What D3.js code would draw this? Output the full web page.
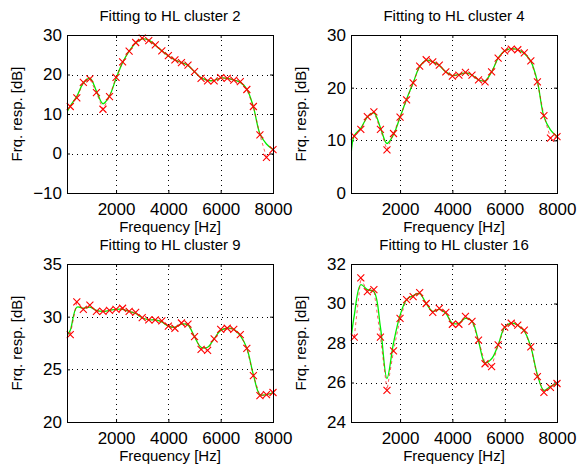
<!DOCTYPE html>
<html>
<head>
<meta charset="utf-8">
<script src="https://cdn.jsdelivr.net/npm/d3@7"></script>
<style>
  body { margin: 0; background: #fff; }
  svg { font-family: "Liberation Sans", Arial, Helvetica, sans-serif; }
</style>
</head>
<body>
<svg width="578" height="466"></svg>
<script>
// sample frequencies of the measured points, and of the fitted curve
const freqs = [250, 500, 750, 1000, 1250, 1500, 1750, 2000, 2250, 2500, 2750, 3000, 3250, 3500, 3750, 4000,
  4250, 4500, 4750, 5000, 5250, 5500, 5750, 6000, 6250, 6500, 6750, 7000, 7250, 7500, 7750, 8000];
const fitFreqs = [125, 250, 500, 750, 1000, 1250, 1500, 1750, 2000, 2250, 2500, 2750, 3000, 3250, 3500, 3750, 4000,
  4250, 4500, 4750, 5000, 5250, 5500, 5750, 6000, 6250, 6500, 6750, 7000, 7250, 7500, 7750, 8000];
const xTicks = [2000, 4000, 6000, 8000];

// cluster 2
const hl2Points = [11.9, 14.1, 18.0, 18.9, 15.4, 11.2, 14.4, 19.3, 23.2, 25.9, 28.1, 29.2, 28.6, 27.5, 26.0, 24.8,
  23.7, 23.0, 22.4, 20.7, 19.0, 18.4, 18.4, 19.2, 19.0, 18.6, 18.2, 16.2, 11.9, 4.7, -1.0, 1.0];
const hl2Fit = [10.5, 12.0, 14.5, 17.8, 19.1, 15.8, 12.6, 14.6, 19.0, 23.0, 25.9, 28.0, 29.0, 28.7, 27.4, 26.0, 24.7,
  23.7, 23.0, 22.3, 20.7, 19.2, 18.5, 18.5, 19.1, 19.0, 18.6, 18.0, 16.3, 11.8, 5.0, 2.4, 1.0];
const hl2Ticks = [-10, 0, 10, 20, 30];

// cluster 4
const hl4Points = [10.8, 12.1, 14.5, 15.4, 12.1, 8.2, 11.3, 14.4, 17.7, 20.9, 24.1, 25.3, 24.9, 24.3, 23.0, 22.2,
  22.4, 22.9, 22.4, 21.5, 21.1, 23.0, 25.6, 27.0, 27.3, 27.2, 26.6, 25.1, 21.1, 14.7, 10.4, 10.7];
const hl4Fit = [7.0, 10.9, 12.3, 14.4, 15.2, 12.4, 9.4, 11.1, 14.4, 17.8, 20.9, 24.0, 25.2, 24.9, 24.2, 23.0, 22.3,
  22.5, 22.8, 22.4, 21.5, 21.3, 23.0, 25.6, 27.0, 27.4, 27.2, 26.5, 25.0, 21.2, 14.5, 12.0, 10.7];
const hl4Ticks = [0, 10, 20, 30];

// cluster 9
const hl9Points = [28.3, 31.4, 30.7, 31.1, 30.5, 30.5, 30.6, 30.7, 30.8, 30.5, 30.4, 29.9, 29.7, 29.7, 29.6, 29.1,
  28.9, 29.4, 29.3, 28.1, 26.9, 26.8, 27.9, 28.8, 28.9, 28.8, 28.3, 27.0, 24.4, 22.5, 22.6, 22.8];
const hl9Fit = [28.2, 28.7, 30.9, 30.8, 30.9, 30.6, 30.5, 30.6, 30.7, 30.7, 30.5, 30.3, 29.9, 29.7, 29.7, 29.5, 29.1,
  29.0, 29.3, 29.2, 28.1, 27.1, 27.1, 27.9, 28.7, 28.9, 28.8, 28.2, 27.0, 24.5, 22.6, 22.6, 22.8];
const hl9Ticks = [20, 25, 30, 35];

// cluster 16
const hl16Points = [28.3, 31.3, 30.6, 30.7, 28.3, 25.6, 27.6, 29.25, 30.2, 30.35, 30.55, 30.0, 29.55, 29.75, 29.55, 28.95,
  28.95, 29.35, 29.1, 28.15, 26.95, 26.8, 27.9, 28.8, 29.0, 28.9, 28.65, 27.8, 26.3, 25.5, 25.75, 25.95];
const hl16Fit = [28.2, 29.4, 30.95, 30.7, 30.6, 28.8, 26.2, 28.0, 29.4, 30.2, 30.4, 30.5, 30.0, 29.6, 29.7, 29.5, 29.0,
  29.0, 29.25, 29.1, 28.1, 27.0, 27.2, 27.9, 28.8, 29.0, 28.9, 28.6, 27.8, 26.4, 25.6, 25.8, 25.95];
const hl16Ticks = [24, 26, 28, 30, 32];

const svg = d3.select("svg");
const W = 206, H = 158;

const panels = [
  { title: "Fitting to HL cluster 2", pts: hl2Points, fit: hl2Fit, yTicks: hl2Ticks, left: 67, top: 35 },
  { title: "Fitting to HL cluster 4", pts: hl4Points, fit: hl4Fit, yTicks: hl4Ticks, left: 351, top: 35 },
  { title: "Fitting to HL cluster 9", pts: hl9Points, fit: hl9Fit, yTicks: hl9Ticks, left: 67, top: 264 },
  { title: "Fitting to HL cluster 16", pts: hl16Points, fit: hl16Fit, yTicks: hl16Ticks, left: 351, top: 264 }
];

const x = d3.scaleLinear().domain([125, 8000]).range([0, W]);
const fmt = d => d < 0 ? "\u2212" + Math.abs(d) : String(d);

panels.forEach((p, i) => {
  const y = d3.scaleLinear().domain(d3.extent(p.yTicks)).range([H, 0]);
  const g = svg.append("g").attr("transform", `translate(${p.left},${p.top})`);

  g.append("clipPath").attr("id", "clip" + i)
    .append("rect").attr("width", W).attr("height", H);

  // dotted grid
  const grid = g.append("g").attr("stroke", "#000").attr("stroke-width", 1)
    .attr("stroke-dasharray", "1,4");
  grid.selectAll(".gx").data(xTicks.filter(t => t < 8000)).join("line")
    .attr("x1", d => Math.round(x(d)) + 0.5).attr("x2", d => Math.round(x(d)) + 0.5)
    .attr("y1", 0).attr("y2", H);
  grid.selectAll(".gy").data(p.yTicks.slice(1, -1)).join("line")
    .attr("y1", d => Math.round(y(d)) + 0.5).attr("y2", d => Math.round(y(d)) + 0.5)
    .attr("x1", 0).attr("x2", W);

  // axes with inward ticks on all four sides
  const bottom = g.append("g").attr("transform", `translate(0,${H})`)
    .call(d3.axisBottom(x).tickValues(xTicks).tickSize(-3).tickFormat(fmt));
  const left = g.append("g")
    .call(d3.axisLeft(y).tickValues(p.yTicks).tickSize(-3).tickPadding(5).tickFormat(fmt));
  g.append("g").call(d3.axisTop(x).tickValues(xTicks).tickSize(-3).tickFormat(""));
  g.append("g").attr("transform", `translate(${W},0)`)
    .call(d3.axisRight(y).tickValues(p.yTicks).tickSize(-3).tickFormat(""));
  g.selectAll(".domain").remove();
  g.selectAll(".tick line").attr("stroke", "#000");
  [bottom, left].forEach(a => a.selectAll("text")
    .attr("fill", "#000").style("font-size", "17px")
    .style("font-family", "'Liberation Sans', Arial, sans-serif"));
  bottom.selectAll("text").attr("y", 22).attr("dy", 0);

  const plot = g.append("g").attr("clip-path", `url(#clip${i})`);

  // fitted curve
  const fitLine = d3.line().x((d, k) => x(fitFreqs[k])).y(d => y(d)).curve(d3.curveCatmullRom);
  plot.append("path").datum(p.fit)
    .attr("d", fitLine).attr("fill", "none")
    .attr("stroke", "#00ee00").attr("stroke-width", 1.3);

  // target, red dashed with x markers
  const ptLine = d3.line().x((d, k) => x(freqs[k])).y(d => y(d));
  plot.append("path").datum(p.pts)
    .attr("d", ptLine).attr("fill", "none")
    .attr("stroke", "#ff0000").attr("stroke-width", 0.8)
    .attr("stroke-dasharray", "3,3").attr("opacity", 0.8);

  g.selectAll(".mk").data(p.pts).join("path")
    .attr("transform", (d, k) => `translate(${x(freqs[k])},${y(d)})`)
    .attr("d", "M-3.5,-3.5L3.5,3.5M-3.5,3.5L3.5,-3.5")
    .attr("stroke", "#ff0000").attr("stroke-width", 1.1);

  // box
  g.append("rect").attr("x", 0.5).attr("y", 0.5).attr("width", W).attr("height", H)
    .attr("fill", "none").attr("stroke", "#000").attr("stroke-width", 1);

  // labels
  g.append("text").attr("x", W / 2).attr("y", -14).attr("text-anchor", "middle")
    .style("font-size", "15px").text(p.title);
  g.append("text").attr("x", W / 2).attr("y", H + 39).attr("text-anchor", "middle")
    .style("font-size", "15px").text("Frequency [Hz]");
  g.append("text").attr("transform", `translate(-45,${H / 2}) rotate(-90)`)
    .attr("text-anchor", "middle").style("font-size", "15px").text("Frq. resp. [dB]");
});
</script>
</body>
</html>
